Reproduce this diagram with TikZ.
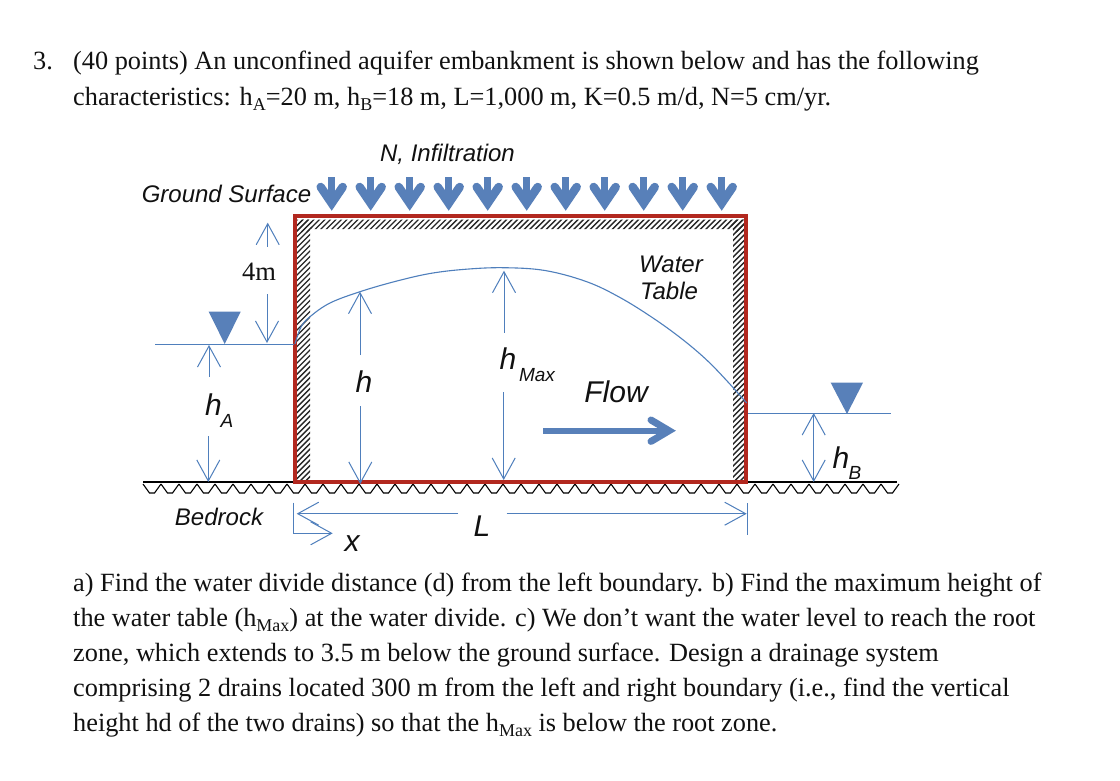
\documentclass[tikz,border=0pt]{standalone}
\usepackage{fontspec}
\setmainfont{Liberation Serif}
\setsansfont{Liberation Sans}
\usetikzlibrary{arrows.meta}
\definecolor{wblue}{HTML}{4F7FBC}
\definecolor{bblue}{HTML}{5880B9}
\definecolor{wred}{HTML}{B2281F}
\definecolor{ink}{HTML}{111111}
\newcommand{\sbt}[1]{\raisebox{-0.22em}{\fontsize{18}{20}\selectfont #1}}
\tikzset{
  x=1pt,y=-1pt,
  para/.style={anchor=base west,inner sep=0,text=ink,font=\fontsize{26.3}{30}\selectfont},
  lab/.style={inner sep=0,text=ink,font=\fontsize{24}{28}\selectfont\sffamily\itshape},
  sublab/.style={inner sep=0,text=ink,font=\fontsize{19}{20}\selectfont\sffamily\itshape},
  biglab/.style={inner sep=0,text=ink,font=\fontsize{30}{32}\selectfont\sffamily\itshape},
  dim/.style={draw=wblue,line width=1pt,-{Straight Barb[length=21pt,width=23pt,line width=1pt]}},
  dimboth/.style={draw=wblue,line width=1pt,{Straight Barb[length=21pt,width=23pt,line width=1pt]}-{Straight Barb[length=21pt,width=23pt,line width=1pt]}},
  thin blue/.style={draw=wblue,line width=1pt},
  hatch/.style={draw=black!85,line width=1.4pt},
  chev/.style={draw=bblue,line width=7pt,line cap=round,miter limit=10},
  tri/.style={fill=bblue,draw=none},
}
\begin{document}
\begin{tikzpicture}
\useasboundingbox[fill=white] (0,0) rectangle (1120,780);

% paragraph
\node[para] (t0) at (33,69) {3.};
\node[para] (t1) at (73,69) {(40 points) An unconfined aquifer embankment is shown below and has the following};
\node[para] (t2) at (73,105) {characteristics: h\sbt{A}=20 m, h\sbt{B}=18 m, L=1,000 m, K=0.5 m/d, N=5 cm/yr.};
\node[para] (t3) at (73,591) {a) Find the water divide distance (d) from the left boundary. b) Find the maximum height of};
\node[para] (t4) at (73,626) {the water table (h\sbt{Max}) at the water divide. c) We don’t want the water level to reach the root};
\node[para] (t5) at (73,661) {zone, which extends to 3.5 m below the ground surface. Design a drainage system};
\node[para] (t6) at (73,696) {comprising 2 drains located 300 m from the left and right boundary (i.e., find the vertical};
\node[para] (t7) at (73,731) {height hd of the two drains) so that the h\sbt{Max} is below the root zone.};

% hatching
\begin{scope}
  \clip (297,219.5) rectangle (744,229) (297,219.5) rectangle (310,480) (733,219.5) rectangle (744,480);
  \foreach \i in {0,...,85} {
    \draw[hatch] ({285+5.5*\i},232) -- ({302+5.5*\i},215);
  }
  \foreach \i in {0,...,50} {
    \draw[hatch] (295,{227.5+5.5*\i}) -- (312,{210.5+5.5*\i});
    \draw[hatch] (731,{226+5.5*\i}) -- (748,{209+5.5*\i});
  }
\end{scope}

% bedrock
\coordinate (bl) at (143,482);
\coordinate (br) at (897,482);
\draw[black,line width=1.2pt] (bl) -- (br);
\foreach \i in {0,...,41} {
  \draw[black,line width=1.1pt] ({143+18*\i},484) -- ({149.5+18*\i},493) -- ({154.5+18*\i},493) -- ({161+18*\i},484);
}

% box
\coordinate (bxa) at (295,216);
\coordinate (bxb) at (746,482);
\draw[wred,line width=4.2pt,line join=miter] (bxa) rectangle (bxb);

% infiltration arrows
\foreach \i in {0,...,10} {
  \coordinate (ia\i) at ({331.7+39*\i},177);
  \coordinate (ib\i) at ({331.7+39*\i},203.2);
  \coordinate (il\i) at ({331.7+39*\i-11},187);
  \coordinate (ir\i) at ({331.7+39*\i+11},187);
  \draw[bblue,line width=7pt] (ia\i) -- (ib\i);
  \draw[chev,line width=8.5pt] (il\i) -- (ib\i) -- (ir\i);
}

% flow arrow
\coordinate (fa) at (543,430.7);
\coordinate (fb) at (669,430.7);
\coordinate (fc) at (651,420);
\coordinate (fd) at (651,441.4);
\draw[bblue,line width=6pt] (fa) -- (fb);
\draw[chev] (fc) -- (fb) -- (fd);

% water levels
\coordinate (wl) at (155,344);
\coordinate (wlr) at (294,344);
\coordinate (wr) at (748,413);
\coordinate (wrr) at (891,413);
\draw[thin blue] (wl) -- (wlr);
\draw[thin blue] (wr) -- (wrr);
\fill[tri] (208.7,311.7) -- (240.7,311.7) -- (224.7,344) -- cycle;
\fill[tri] (830.7,382.7) -- (863,382.7) -- (847,414) -- cycle;

% water table
\draw[wblue,line width=1.1pt,smooth,tension=0.6] plot coordinates {(295,344) (301,327) (310,316.7) (330,303) (360,291.7) (395,281.5) (430,273.5) (465,269.3) (503,267.7) (545,270.5) (586.7,281.7) (620,297.5) (653,318) (682,339) (706.7,360) (728,382) (746.7,403)};

% labels
\node[lab] (ninf) at (447.5,154) {N, Infiltration};
\node[lab] (gs) at (226.5,194) {Ground Surface};
\node[inner sep=0,text=ink,font=\fontsize{26.5}{28}\selectfont] (fourm) at (259,272) {4m};
\node[biglab] (ha) at (213.5,405) {h};
\node[sublab] (haa) at (227,421) {A};
\node[biglab] (hh) at (364,382) {h};
\node[biglab] (hm) at (508,359) {h};
\node[sublab] (hmm) at (537,375) {Max};
\node[biglab] (flow) at (616,392) {Flow};
\node[lab] (wt1) at (671,264) {Water};
\node[lab] (wt2) at (669,291) {Table};
\node[biglab] (hb) at (841,458) {h};
\node[sublab] (hbb) at (855,473) {B};
\node[lab] (bed) at (219,517) {Bedrock};
\node[biglab] (ll) at (482,526) {L};
\node[biglab] (xx) at (352,544) {x};

% dimension coordinates
\coordinate (a1s) at (267.7,246.7); \coordinate (a1e) at (267.7,222.7);
\coordinate (a2s) at (267,294);     \coordinate (a2e) at (267,343);
\coordinate (a3s) at (209,376.7);   \coordinate (a3e) at (209,345);
\coordinate (a4s) at (208.3,436);   \coordinate (a4e) at (208.3,482);
\coordinate (a5s) at (360,355);     \coordinate (a5e) at (360,291.7);
\coordinate (a6s) at (360.3,406);   \coordinate (a6e) at (360.3,484);
\coordinate (a7s) at (504,332.7);   \coordinate (a7e) at (504,270.7);
\coordinate (a8s) at (503.7,392);   \coordinate (a8e) at (503.7,480);
\coordinate (l1s) at (458,513.7);   \coordinate (l1e) at (296.7,513.7);
\coordinate (l2s) at (506.7,513.7); \coordinate (l2e) at (746.7,513.7);
\coordinate (tkl1) at (293.3,502.7); \coordinate (tkl2) at (293.3,533.3);
\coordinate (xe) at (332.7,533.3);
\coordinate (tkr1) at (747.7,503);  \coordinate (tkr2) at (747.7,535);
\coordinate (bs) at (813.7,413);    \coordinate (be) at (813.7,482);

\foreach \p/\q in {a1s/a1e,a2s/a2e,a3s/a3e,a4s/a4e,a5s/a5e,a6s/a6e,a7s/a7e,a8s/a8e,l1s/l1e,l2s/l2e,tkl2/xe}
  \draw[dim] (\p) -- (\q);
\draw[thin blue] (tkl1) -- (tkl2);
\draw[thin blue] (tkr1) -- (tkr2);
\draw[dimboth] (bs) -- (be);
\end{tikzpicture}
\end{document}
